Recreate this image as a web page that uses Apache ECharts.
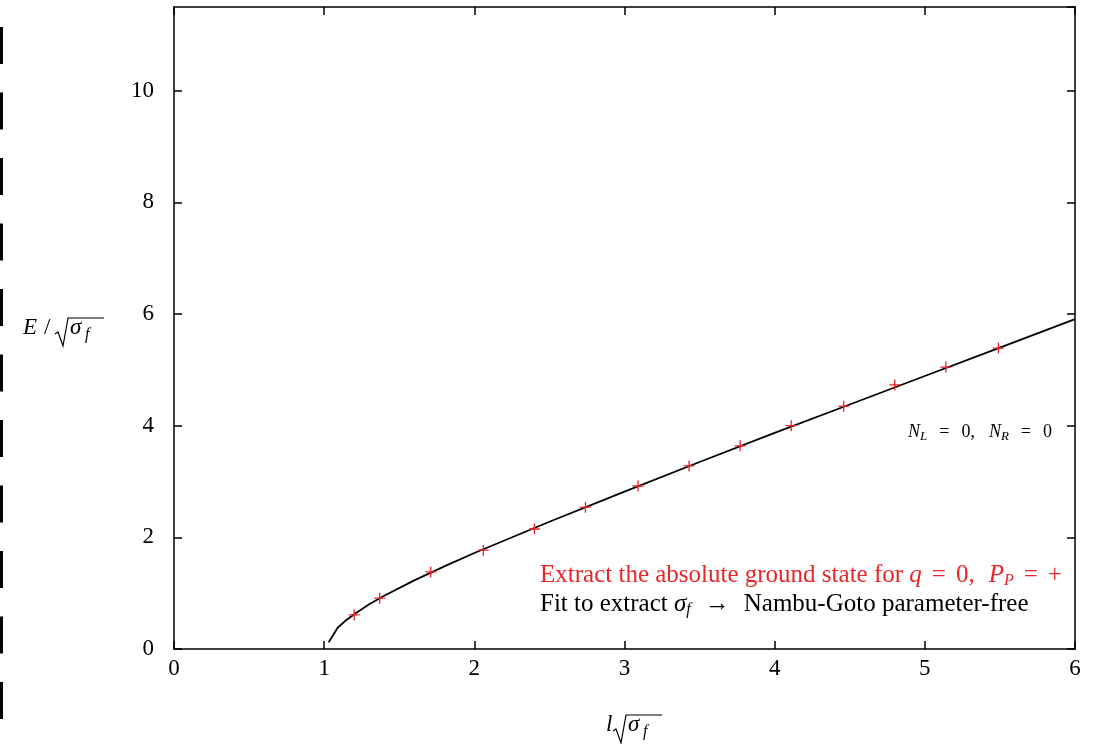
<!DOCTYPE html>
<html>
<head>
<meta charset="utf-8">
<script src="https://cdn.jsdelivr.net/npm/echarts@6/dist/echarts.min.js"></script>
<style>html,body{margin:0;padding:0;background:#fff;}#c{width:1101px;height:744px;}</style>
</head>
<body>
<div id="c"></div>
<script>
// Data
const curveX = [1.03, 1.09, 1.15, 1.21, 1.3, 1.4, 1.6, 1.8, 2.0, 2.5, 3.0, 3.5, 4.0, 4.5, 5.0, 5.5, 6.0];
const curveY = [0.12, 0.38, 0.525, 0.64, 0.80, 0.955, 1.23, 1.48, 1.72, 2.28, 2.82, 3.35, 3.87, 4.38, 4.89, 5.40, 5.91];
const pointX = [1.2, 1.37, 1.71, 2.06, 2.40, 2.74, 3.09, 3.43, 3.77, 4.11, 4.46, 4.80, 5.14, 5.49];
const pointY = [0.61, 0.91, 1.38, 1.77, 2.15, 2.54, 2.92, 3.28, 3.64, 4.00, 4.35, 4.73, 5.05, 5.39];
const xTicks = [0, 1, 2, 3, 4, 5, 6];
const yTicks = [0, 2, 4, 6, 8, 10];

const FONT = 'Liberation Serif';
const RED = '#e8262a';
const ctx = document.createElement('canvas').getContext('2d');
function seq(x, y, parts, color) {
  const els = [];
  let cx = x;
  parts.forEach(p => {
    const style = p.it ? 'italic' : 'normal';
    ctx.font = style + ' ' + p.s + 'px "' + FONT + '"';
    const w = ctx.measureText(p.t).width;
    if (p.x !== undefined) cx = p.x;
    els.push({
      type: 'text', x: cx, y: y + (p.dy || 0), silent: true,
      style: { text: p.t, fontFamily: FONT, fontSize: p.s, fontStyle: style,
               fill: p.c || color, verticalAlign: 'middle', align: 'left' }
    });
    cx += w + (p.gap || 0);
  });
  return els;
}

const L = 25, S = 16, G = 10;
const redLine = seq(540, 575, [
  {t: 'Extract the absolute ground state for ', s: L},
  {t: 'q', s: L, it: true, gap: G},
  {t: '=', s: L, gap: G},
  {t: '0,', s: L, gap: G + 4},
  {t: 'P', s: L, it: true},
  {t: 'P', s: S, it: true, dy: 6, gap: G},
  {t: '=', s: L, gap: G},
  {t: '+', s: L}
], RED);
const blackLine = seq(540, 604, [
  {t: 'Fit to extract ', s: L},
  {t: 'σ', s: L, it: true},
  {t: 'f', s: S, it: true, dy: 6, gap: 14},
  {t: '→', s: L, gap: 14},
  {t: 'Nambu-Goto parameter-free', s: L}
], '#000');
const NS = 18, NSub = 13, NG = 12;
const nLabel = seq(908, 432, [
  {t: 'N', s: NS, it: true},
  {t: 'L', s: NSub, it: true, dy: 5, gap: NG},
  {t: '=', s: NS, gap: NG},
  {t: '0,', s: NS, gap: NG + 2},
  {t: 'N', s: NS, it: true},
  {t: 'R', s: NSub, it: true, dy: 5, gap: NG},
  {t: '=', s: NS, gap: NG},
  {t: '0', s: NS}
], '#000');
const yLabel = seq(23, 328, [
  {t: 'E', s: 23, it: true, x: 23},
  {t: '/', s: 23, x: 44},
  {t: 'σ', s: 23, it: true, x: 70},
  {t: 'f', s: 16, it: true, dy: 7, x: 85}
], '#000');
const xLabel = seq(606, 725, [
  {t: 'l', s: 23, it: true, x: 606},
  {t: 'σ', s: 23, it: true, x: 628},
  {t: 'f', s: 16, it: true, dy: 7, x: 643}
], '#000');

const chart = echarts.init(document.getElementById('c'), null, {renderer: 'canvas'});
const axisCommon = {
  type: 'value',
  axisLine: {show: true, onZero: false, lineStyle: {color: '#000', width: 1.5}},
  axisTick: {show: true, inside: true, length: 8, lineStyle: {color: '#000', width: 1.5}},
  splitLine: {show: false}
};
chart.setOption({
  animation: false,
  backgroundColor: '#fff',
  grid: {left: 174, right: 26, top: 7, bottom: 95, containLabel: false},
  xAxis: [
    Object.assign({}, axisCommon, {
      position: 'bottom', min: 0, max: 6, interval: 1,
      axisLabel: {color: '#000', fontFamily: FONT, fontSize: 23, margin: 8,
        formatter: v => xTicks.indexOf(v) >= 0 ? String(v) : ''}
    }),
    Object.assign({}, axisCommon, {
      position: 'top', min: 0, max: 6, interval: 1, axisLabel: {show: false}
    })
  ],
  yAxis: [
    Object.assign({}, axisCommon, {
      position: 'left', min: 0, max: 11.5, interval: 2,
      axisLabel: {color: '#000', fontFamily: FONT, fontSize: 23, margin: 20, showMaxLabel: false,
        formatter: v => yTicks.indexOf(v) >= 0 ? String(v) : ''}
    }),
    Object.assign({}, axisCommon, {
      position: 'right', min: 0, max: 11.5, interval: 2, axisLabel: {show: false}
    })
  ],
  series: [
    {
      type: 'line', xAxisIndex: 0, yAxisIndex: 0,
      data: curveX.map((x, i) => [x, curveY[i]]),
      showSymbol: false, symbol: 'none', smooth: false,
      lineStyle: {color: '#000', width: 1.8}, z: 2
    },
    {
      type: 'scatter', xAxisIndex: 0, yAxisIndex: 0,
      data: pointX.map((x, i) => [x, pointY[i]]),
      symbol: 'path://M4.4,0h1.2v4.4h4.4v1.2h-4.4v4.4h-1.2v-4.4h-4.4v-1.2h4.4z',
      symbolSize: 11,
      itemStyle: {color: RED, opacity: 1}, z: 3
    }
  ],
  graphic: [
    {type: 'line', silent: true, shape: {x1: 1.5, y1: 27, x2: 1.5, y2: 744},
     style: {stroke: '#000', lineWidth: 3, lineDash: [37, 28.5]}},
    {type: 'polyline', silent: true,
     shape: {points: [[55, 334], [58, 332], [63, 346], [68, 318], [104, 318]]},
     style: {stroke: '#000', lineWidth: 1.2, fill: null}},
    {type: 'polyline', silent: true,
     shape: {points: [[613, 731], [616, 729], [621, 743], [626, 715], [662, 715]]},
     style: {stroke: '#000', lineWidth: 1.2, fill: null}}
  ].concat(redLine, blackLine, nLabel, yLabel, xLabel)
});
</script>
</body>
</html>
